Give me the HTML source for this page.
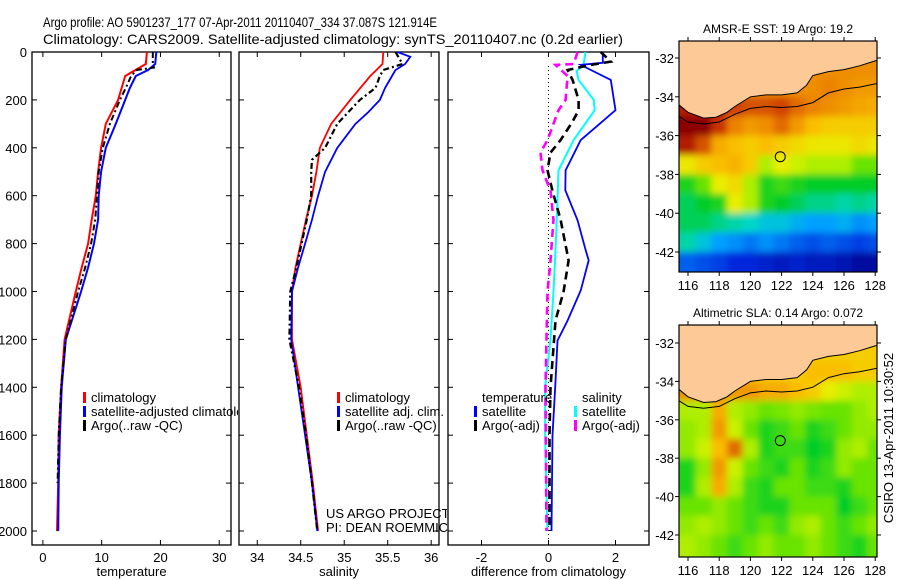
<!DOCTYPE html>
<html><head><meta charset="utf-8"><style>
body{margin:0;background:#fff;}
svg{display:block;font-family:"Liberation Sans",sans-serif;}
</style></head><body>
<svg id="fig" width="900" height="580" viewBox="0 0 900 580" xmlns="http://www.w3.org/2000/svg">
<defs>
<filter id="blur" x="-10%" y="-10%" width="120%" height="120%"><feGaussianBlur stdDeviation="3.5"/></filter>
<clipPath id="clip-p1"><rect x="0" y="0" width="238" height="580"/></clipPath>
<clipPath id="clip-p2"><rect x="236" y="0" width="211" height="580"/></clipPath>
</defs>
<rect width="900" height="580" fill="#fff"/>
<text x="43" y="27" font-size="14" textLength="394" lengthAdjust="spacingAndGlyphs">Argo profile: AO 5901237_177 07-Apr-2011 20110407_334 37.087S 121.914E</text>
<text x="43" y="44" font-size="14" textLength="580" lengthAdjust="spacingAndGlyphs">Climatology: CARS2009. Satellite-adjusted climatology: synTS_20110407.nc (0.2d earlier)</text>
<g id="plots"></g>
<text transform="translate(893,438) rotate(-90)" text-anchor="middle" font-size="13">CSIRO 13-Apr-2011 10:30:52</text>
</svg>
<script>
// ---- profile data ----
const tClimDepth=[0,50,100,200,300,400,500,600,700,800,900,1000,1200,1400,1600,1800,2000];
const tClimVal=[17.7,17.5,14.0,12.8,10.7,9.9,9.4,9.0,8.3,7.7,6.6,5.6,3.7,3.1,2.7,2.6,2.4];
const tSatDepth=[0,50,75,100,150,200,300,400,500,600,700,800,900,1000,1200,1400,1600,1800,2000];
const tSatVal=[19.3,19.1,17.9,15.8,14.8,14.0,12.4,10.7,9.9,9.5,9.4,8.7,7.7,6.5,3.9,3.2,2.9,2.7,2.6];
const tArgoDepth=[0,50,65,75,100,150,200,300,400,500,600,700,800,900,1000,1200,1400,1600,1800];
const tArgoVal=[18.7,18.7,18.9,16.0,15.0,14.1,13.1,11.4,10.2,9.5,9.2,8.9,8.2,7.2,6.0,3.9,3.1,2.7,2.5];

const sClimDepth=[0,50,100,200,300,400,500,600,700,800,900,1000,1200,1400,1600,1800,2000];
const sClimVal=[35.45,35.44,35.30,35.07,34.85,34.72,34.68,34.63,34.56,34.50,34.44,34.40,34.40,34.50,34.57,34.64,34.70];
const sSatDepth=[0,20,50,75,100,150,200,250,300,400,500,600,700,800,900,1000,1200,1400,1600,1800,2000];
const sSatVal=[35.61,35.76,35.70,35.59,35.55,35.47,35.41,35.28,35.13,34.92,34.78,34.70,34.63,34.55,34.47,34.40,34.39,34.47,34.55,34.63,34.69];
const sArgoDepth=[0,50,75,100,150,200,300,400,450,500,600,700,800,900,1000,1200,1400,1600,1800,2000];
const sArgoVal=[35.59,35.67,35.45,35.41,35.36,35.18,34.92,34.78,34.63,34.62,34.62,34.57,34.51,34.45,34.38,34.37,34.48,34.56,34.63,34.69];

const dTSatDepth=[0,45,54,117,243,368,494,577,703,828,870,996,1121,1205,1400,1600,2000];
const dTSatVal=[1.62,1.62,0.96,1.86,2.0,0.96,0.51,0.5,0.87,1.11,1.2,0.96,0.57,0.27,0.2,0.12,0.09];
const dSSatDepth=[0,50,80,117,200,243,368,494,620,828,1000,1200,1400,1600,2000];
const dSSatVal=[1.1,1.05,0.84,0.9,1.35,1.38,0.75,0.3,0.27,0.21,0.15,0.06,-0.1,-0.1,-0.03];
const dTArgoDepth=[0,40,54,75,117,200,243,290,368,420,494,580,700,870,1000,1121,1400,1600,2000];
const dTArgoVal=[1.56,1.86,1.26,0.57,0.72,0.9,0.9,0.72,0.36,0.06,-0.03,0.12,0.36,0.6,0.45,0.21,0.06,0.03,0.03];
const dSArgoDepth=[0,50,54,100,200,243,368,420,494,580,700,870,1000,1200,1400,2000];
const dSArgoVal=[0.87,0.75,0.21,0.57,0.51,0.3,-0.03,-0.24,-0.18,0.06,0.15,0.06,-0.03,-0.06,-0.09,-0.06];

const depthTicks=[0,200,400,600,800,1000,1200,1400,1600,1800,2000];
const tempTicks=[0,10,20,30];
const salTicks=[34,34.5,35,35.5,36];
const diffTicks=[-2,0,2];

// ---- map data (1-degree cells, rows lat -31..-43, cols lon 115.5..128.5) ----
const mapLatEdges=[-31,-32,-33,-34,-35,-36,-37,-38,-39,-40,-41,-42,-43.2];
const mapLonEdges=[115.4,116.5,117.5,118.5,119.5,120.5,121.5,122.5,123.5,124.5,125.5,126.5,127.5,128.2];
const sstGrid=[
[0.8,0.8,0.8,0.8,0.8,0.8,0.8,0.8,0.8,0.8,0.8,0.8,0.8],
[0.8,0.8,0.8,0.8,0.8,0.8,0.8,0.8,0.8,0.8,0.8,0.8,0.8],
[0.8,0.8,0.8,0.8,0.8,0.8,0.8,0.8,0.8,0.82,0.8,0.78,0.78],
[0.95,0.95,0.95,0.9,0.88,0.88,0.9,0.85,0.82,0.8,0.78,0.76,0.75],
[1.0,1.0,0.92,0.82,0.78,0.8,0.85,0.78,0.72,0.7,0.7,0.7,0.7],
[0.95,0.88,0.75,0.72,0.7,0.72,0.7,0.68,0.66,0.66,0.66,0.68,0.66],
[0.66,0.7,0.72,0.74,0.7,0.6,0.65,0.62,0.6,0.6,0.6,0.55,0.55],
[0.5,0.55,0.65,0.68,0.6,0.5,0.52,0.5,0.48,0.48,0.48,0.48,0.48],
[0.45,0.48,0.5,0.65,0.6,0.5,0.48,0.45,0.42,0.42,0.4,0.42,0.4],
[0.45,0.45,0.42,0.4,0.38,0.35,0.35,0.32,0.3,0.3,0.32,0.28,0.3],
[0.4,0.35,0.3,0.28,0.25,0.28,0.25,0.22,0.2,0.22,0.2,0.18,0.2],
[0.22,0.2,0.18,0.15,0.15,0.12,0.1,0.12,0.1,0.1,0.08,0.05,0.05]];
const slaGrid=[
[0.7,0.7,0.7,0.7,0.7,0.7,0.7,0.7,0.7,0.7,0.7,0.7,0.7],
[0.7,0.7,0.7,0.7,0.7,0.7,0.7,0.7,0.7,0.7,0.7,0.7,0.7],
[0.7,0.7,0.7,0.7,0.7,0.7,0.7,0.7,0.72,0.72,0.72,0.7,0.7],
[0.8,0.8,0.8,0.78,0.78,0.75,0.75,0.72,0.7,0.65,0.62,0.6,0.6],
[0.6,0.6,0.75,0.6,0.58,0.55,0.56,0.58,0.56,0.55,0.55,0.58,0.6],
[0.58,0.6,0.78,0.62,0.55,0.5,0.52,0.55,0.5,0.52,0.55,0.58,0.58],
[0.58,0.62,0.72,0.85,0.6,0.5,0.52,0.52,0.48,0.5,0.58,0.6,0.55],
[0.5,0.58,0.78,0.62,0.55,0.52,0.5,0.55,0.5,0.52,0.58,0.55,0.55],
[0.5,0.6,0.75,0.6,0.52,0.5,0.55,0.55,0.52,0.52,0.5,0.55,0.55],
[0.55,0.55,0.58,0.55,0.52,0.5,0.5,0.55,0.55,0.55,0.48,0.52,0.55],
[0.58,0.6,0.58,0.55,0.52,0.55,0.52,0.58,0.6,0.55,0.52,0.55,0.58],
[0.6,0.58,0.55,0.52,0.55,0.58,0.55,0.55,0.58,0.55,0.52,0.5,0.55]];
const coastLon=[115.4,116,117,117.8,118.5,119,120,121,122,123,123.6,124,125,126,127,128.2];
const coastLat=[-34.4,-34.8,-35.1,-35.05,-34.8,-34.5,-34.0,-33.9,-33.9,-33.8,-33.4,-32.9,-32.7,-32.6,-32.4,-32.1];
const isoLon=[115.4,116,117,118,119,120,121,122,123,124,125,126,127,128.2];
const isoLat=[-35.0,-35.3,-35.4,-35.3,-34.9,-34.6,-34.5,-34.55,-34.5,-34.3,-33.8,-33.6,-33.5,-33.3];
const argoLon=121.914, argoLat=-37.087;
const latTicks=[-32,-34,-36,-38,-40,-42];
const lonTicks=[116,118,120,122,124,126,128];

const NS='http://www.w3.org/2000/svg';
const root=document.getElementById('plots');
function mk(tag,attrs,parent){const e=document.createElementNS(NS,tag);for(const k in attrs)e.setAttribute(k,attrs[k]);(parent||root).appendChild(e);return e;}
function txt(s,x,y,attrs,parent){const e=mk('text',Object.assign({x:x,y:y,'font-size':13},attrs||{}),parent);e.textContent=s;return e;}

const yTop=52, yBot=545;
const yD=d=>52+d*0.2395;

function panel(name,left,right,xmin,xmax,xticks,xlabel,xtickFmt,showY,clip){
  const g=mk('g',clip?{'clip-path':'url(#'+clip+')'}:{});
  
  
  const xs=v=>left+(v-xmin)/(xmax-xmin)*(right-left);
  mk('rect',{x:left,y:yTop,width:right-left,height:yBot-yTop,fill:'none',stroke:'#000','stroke-width':1.3},g);
  depthTicks.forEach(d=>{
    const y=yD(d);
    mk('line',{x1:left,x2:left+5,y1:y,y2:y,stroke:'#000'},g);
    mk('line',{x1:right-5,x2:right,y1:y,y2:y,stroke:'#000'},g);
    if(showY){const t=txt(String(d),27,y+5,{'text-anchor':'end'},g);}
  });
  xticks.forEach(v=>{
    const x=xs(v);
    mk('line',{x1:x,x2:x,y1:yTop,y2:yTop+5,stroke:'#000'},g);
    mk('line',{x1:x,x2:x,y1:yBot-5,y2:yBot,stroke:'#000'},g);
    const t=txt(xtickFmt(v),x,562,{'text-anchor':'middle'},g);
    
    
  });
  const xl=txt(xlabel,(left+right)/2,576,{'text-anchor':'middle'},g);
  
  
  return {g,xs};
}
function line(p,depth,vals,color,w,dash,name){
  let d='';
  depth.forEach((z,i)=>{d+=(i?'L':'M')+p.xs(vals[i]).toFixed(1)+','+yD(z).toFixed(1);});
  const a={d:d,fill:'none',stroke:color,'stroke-width':w};
  if(dash)a['stroke-dasharray']=dash;
  const e=mk('path',a,p.g);
  
  
}
function legend(g,x,y,color,label){
  if(color)mk('rect',{x:x,y:y-10,width:3,height:11,fill:color},g);
  const t=txt(label,x+8,y,{},g);
  
  
}

// temperature
const p1=panel('temperature-panel',32,231,-1.85,32,tempTicks,'temperature',v=>String(v),true,'clip-p1');
line(p1,tClimDepth,tClimVal,'#f00',2,null,'temp-climatology-line');
line(p1,tSatDepth,tSatVal,'#00f',2,null,'temp-satellite-line');
line(p1,tArgoDepth,tArgoVal,'#000',2,'6,3,2,3','temp-argo-line');
legend(p1.g,83,402,'#f00','climatology');
legend(p1.g,83,416,'#00f','satellite-adjusted climatology');
legend(p1.g,83,430,'#000','Argo(..raw -QC)');

// salinity
const p2=panel('salinity-panel',239,439,33.79,36.09,salTicks,'salinity',v=>String(v),false,'clip-p2');
line(p2,sClimDepth,sClimVal,'#f00',1.8,null,'sal-climatology-line');
line(p2,sSatDepth,sSatVal,'#00f',1.8,null,'sal-satellite-line');
line(p2,sArgoDepth,sArgoVal,'#000',2.2,'6,3,2,3','sal-argo-line');
legend(p2.g,337,402,'#f00','climatology');
legend(p2.g,337,416,'#00f','satellite adj. clim.');
legend(p2.g,337,430,'#000','Argo(..raw -QC)');
const c1=txt('US ARGO PROJECT',326,518,{},p2.g);
const c2=txt('PI: DEAN ROEMMICH',326,532,{},p2.g);

// difference
const p3=panel('difference-panel',448,649,-3,3,diffTicks,'difference from climatology',v=>String(v),false,null);
mk('line',{x1:p3.xs(0),x2:p3.xs(0),y1:yTop+14,y2:yBot,stroke:'#000','stroke-dasharray':'1,3'},p3.g);
line(p3,dSSatDepth,dSSatVal,'#0ff',2,null,'diff-sal-satellite-line');
line(p3,dTSatDepth,dTSatVal,'#00f',1.8,null,'diff-temp-satellite-line');
line(p3,dTArgoDepth,dTArgoVal,'#000',2.6,'8,5','diff-temp-argo-line');
line(p3,dSArgoDepth,dSArgoVal,'#f0f',2.6,'8,5','diff-sal-argo-line');
legend(p3.g,474,402,null,'temperature');
legend(p3.g,474,416,'#00f','satellite');
legend(p3.g,474,430,'#000','Argo(-adj)');
legend(p3.g,574,402,null,'salinity');
legend(p3.g,574,416,'#0ff','satellite');
legend(p3.g,574,430,'#f0f','Argo(-adj)');

// ---- maps ----
function cmap(v){
  const stops=[[0,[0,0,130]],[0.15,[0,40,220]],[0.3,[0,160,255]],[0.38,[0,215,200]],[0.48,[0,205,40]],[0.56,[120,230,0]],[0.64,[230,245,0]],[0.72,[250,190,0]],[0.82,[235,130,0]],[0.92,[200,50,0]],[1,[140,0,0]]];
  for(let i=1;i<stops.length;i++){if(v<=stops[i][0]){const a=stops[i-1],b=stops[i],t=(v-a[0])/(b[0]-a[0]);return 'rgb('+a[1].map((c,k)=>Math.round(c+(b[1][k]-c)*t)).join(',')+')';}}
  return 'rgb(140,0,0)';
}
function map(name,top,bot,lat32y,lat42y,grid,title){
  const g=mk('g',{});
  
  
  const L=679,R=877;
  const xs=lon=>688+(lon-116)*15.6;
  const ys=lat=>lat32y+(-32-lat)*(lat42y-lat32y)/10;
  const cid=name+'-clip';
  const cp=mk('clipPath',{id:cid},g);mk('rect',{x:L,y:top,width:R-L,height:bot-top},cp);
  const clipG=mk('g',{'clip-path':'url(#'+cid+')'},g);
  const cells=mk('g',{filter:'url(#blur)'},clipG);
  const nr=grid.length, nc=grid[0].length;
  grid.forEach((row,r)=>row.forEach((v,c)=>{
    let x0=xs(mapLonEdges[c]),x1=xs(mapLonEdges[c+1]),y0=ys(mapLatEdges[r]),y1=ys(mapLatEdges[r+1]);
    if(c===0)x0-=12; if(c===nc-1)x1+=12; if(r===0)y0-=12; if(r===nr-1)y1+=12;
    const e=mk('rect',{x:x0.toFixed(1),y:y0.toFixed(1),width:(x1-x0+0.6).toFixed(1),height:(y1-y0+0.6).toFixed(1),fill:cmap(v)},cells);
    
    
  }));
  let d='M'+xs(115.3)+','+ys(-30.5);
  coastLon.forEach((lo,i)=>{d+='L'+xs(lo).toFixed(1)+','+ys(coastLat[i]).toFixed(1);});
  d+='L'+xs(128.3)+','+ys(-32.1)+'L'+xs(128.3)+','+ys(-30.5)+'Z';
  const land=mk('path',{d:d,fill:'#fcc997',stroke:'#000','stroke-width':1},clipG);
  
  
  let d2='';isoLon.forEach((lo,i)=>{d2+=(i?'L':'M')+xs(lo).toFixed(1)+','+ys(isoLat[i]).toFixed(1);});
  const iso=mk('path',{d:d2,fill:'none',stroke:'#000','stroke-width':1},clipG);
  
  
  const pt=mk('circle',{cx:xs(argoLon),cy:ys(argoLat),r:5,fill:'none',stroke:'#000','stroke-width':1},g);
  
  
  mk('rect',{x:L,y:top,width:R-L,height:bot-top,fill:'none',stroke:'#000','stroke-width':1.2},g);
  latTicks.forEach(la=>{const y=ys(la);
    mk('line',{x1:L-4,x2:L,y1:y,y2:y,stroke:'#000'},g);
    mk('line',{x1:R,x2:R+4,y1:y,y2:y,stroke:'#000'},g);
    const t=txt(String(la),674,y+5,{'text-anchor':'end'},g);
    
    
  });
  lonTicks.forEach(lo=>{const x=xs(lo);
    mk('line',{x1:x,x2:x,y1:top-4,y2:top,stroke:'#000'},g);
    mk('line',{x1:x,x2:x,y1:bot,y2:bot+4,stroke:'#000'},g);
    const t=txt(String(lo),x,bot+18,{'text-anchor':'middle'},g);
    
    
  });
  const tt=txt(title,(L+R)/2,top-8,{'text-anchor':'middle','font-size':12},g);
  
  
}
map('sst-map',41,272,58,252,sstGrid,'AMSR-E SST: 19 Argo: 19.2');
map('sla-map',325,557,343,535,slaGrid,'Altimetric SLA: 0.14 Argo: 0.072');
</script>
</body></html>
